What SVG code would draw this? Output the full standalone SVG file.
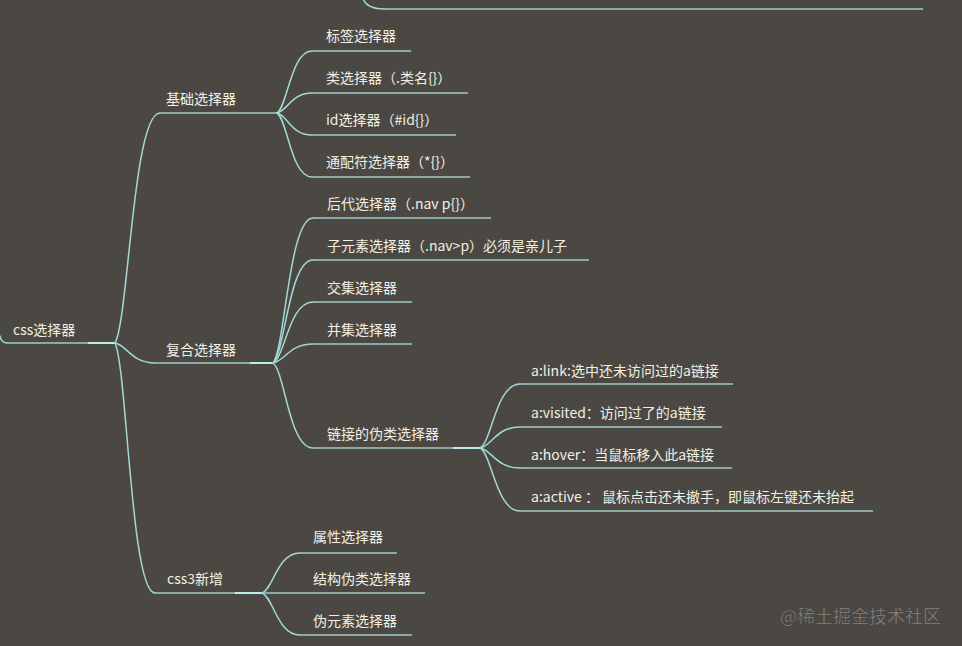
<svg xmlns="http://www.w3.org/2000/svg" width="962" height="646" viewBox="0 0 962 646">
<style>
.bg{fill:#4b4844}
.c{fill:none;stroke:#a3d8d4;stroke-width:1.5;stroke-linecap:round}
.u{fill:none;stroke:#a0cbc7;stroke-width:1.6}
.hl{fill:none;stroke:#bdeeea;stroke-width:2}
text{font-family:"Noto Sans CJK SC","Liberation Sans",sans-serif;font-size:14px;fill:#f2efe3;dominant-baseline:central}
.wm{font-size:18px;fill:#8e8b86;stroke:#3a3835;stroke-width:0.4}
</style>
<rect class="bg" x="0" y="0" width="962" height="646"/>
<g id="connectors">
<path class="c" d="M363 -2 Q366 9 385 9"/>
<path class="u" d="M385 9 L923 9"/>
<path class="c" d="M0 336 Q1 343 8 343"/>
<path class="u" d="M8 343 L115 343"/>
<path class="hl" d="M88 343 L115 343"/>
<path class="c" d="M115 343 C128.5 320 133 113 160 113"/>
<path class="c" d="M115 343 C127 345 131 363 155 363"/>
<path class="c" d="M115 343 C127 368 131 593 155 593"/>
<path class="u" d="M160 113 L277 113"/>
<path class="u" d="M155 363 L273 363"/>
<path class="hl" d="M250 363 L273 363"/>
<path class="u" d="M155 593 L262 593"/>
<path class="hl" d="M235 593 L262 593"/>
<path class="c" d="M277 113 C287.5 106.8 291 51 312 51"/>
<path class="c" d="M277 113 C287.5 111 291 93 312 93"/>
<path class="c" d="M277 113 C287.5 115.2 291 135 312 135"/>
<path class="c" d="M277 113 C287.5 119.4 291 177 312 177"/>
<path class="u" d="M312 51 L411 51"/>
<path class="u" d="M312 93 L468 93"/>
<path class="u" d="M312 135 L456 135"/>
<path class="u" d="M312 177 L470 177"/>
<path class="c" d="M273 363 C285 348.5 289 218 313 218"/>
<path class="c" d="M273 363 C285 352.7 289 260 313 260"/>
<path class="c" d="M273 363 C285 356.9 289 302 313 302"/>
<path class="c" d="M273 363 C285 361.1 289 344 313 344"/>
<path class="c" d="M273 363 C285 371.5 289 448 313 448"/>
<path class="u" d="M313 218 L491 218"/>
<path class="u" d="M313 260 L589 260"/>
<path class="u" d="M313 302 L412 302"/>
<path class="u" d="M313 344 L412 344"/>
<path class="u" d="M313 448 L480 448"/>
<path class="hl" d="M453 448 L480 448"/>
<path class="c" d="M480 448 C492 441.6 496 384 520 384"/>
<path class="c" d="M480 448 C492 445.9 496 427 520 427"/>
<path class="c" d="M480 448 C492 450 496 468 520 468"/>
<path class="c" d="M480 448 C492 454.3 496 511 520 511"/>
<path class="u" d="M520 384 L733 384"/>
<path class="u" d="M520 427 L722 427"/>
<path class="u" d="M520 468 L732 468"/>
<path class="u" d="M520 511 L873 511"/>
<path class="c" d="M262 593 C273.4 589 277.2 553 300 553"/>
<path class="c" d="M262 593 C273.4 597.2 277.2 635 300 635"/>
<path class="u" d="M300 553 L397 553"/>
<path class="u" d="M262 593 L425 593"/>
<path class="u" d="M300 635 L412 635"/>
</g>
<g id="root"><text x="13" y="329">css选择器</text></g>
<g id="n-basic"><text x="166" y="98">基础选择器</text></g>
<g id="n-tag"><text x="326" y="35">标签选择器</text></g>
<g id="n-class"><text x="326" y="77">类选择器（.类名{}）</text></g>
<g id="n-id"><text x="326" y="119">id选择器（#id{}）</text></g>
<g id="n-all"><text x="326" y="161">通配符选择器（*{}）</text></g>
<g id="n-compound"><text x="166" y="349">复合选择器</text></g>
<g id="n-desc"><text x="327" y="203">后代选择器（.nav p{}）</text></g>
<g id="n-child"><text x="327" y="245">子元素选择器（.nav&gt;p）必须是亲儿子</text></g>
<g id="n-inter"><text x="327" y="287">交集选择器</text></g>
<g id="n-union"><text x="327" y="329">并集选择器</text></g>
<g id="n-link"><text x="327" y="433">链接的伪类选择器</text></g>
<g id="n-alink"><text x="531" y="370">a:link:选中还未访问过的a链接</text></g>
<g id="n-avisited"><text x="531" y="412">a:visited：访问过了的a链接</text></g>
<g id="n-ahover"><text x="531" y="454">a:hover：当鼠标移入此a链接</text></g>
<g id="n-aactive"><text x="531" y="496">a:active ： 鼠标点击还未撤手，即鼠标左键还未抬起</text></g>
<g id="n-css3"><text x="167" y="578">css3新增</text></g>
<g id="n-attr"><text x="313" y="536">属性选择器</text></g>
<g id="n-struct"><text x="313" y="578">结构伪类选择器</text></g>
<g id="n-pseudo"><text x="313" y="620">伪元素选择器</text></g>
<text class="wm" x="780" y="615">@稀土掘金技术社区</text>
</svg>
